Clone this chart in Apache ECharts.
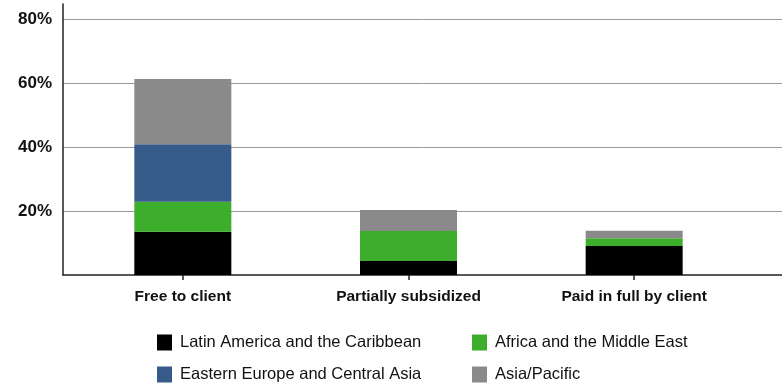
<!DOCTYPE html>
<html>
<head>
    <meta charset="utf-8">
    <title>Stacked bars</title>
    <script src="https://cdn.jsdelivr.net/npm/echarts@6/dist/echarts.min.js"></script>
    <style>
        html, body { margin: 0; padding: 0; background: #fff; }
        #container { width: 782px; height: 383px; }
    </style>
</head>
<body>
<div id="container"></div>
<script>
    // data (percent)
    var categories = ['Free to client', 'Partially subsidized', 'Paid in full by client'];
    var latinAmerica = [13.5, 4.4, 9.1];
    var africaMiddleEast = [9.4, 9.35, 2.4];
    var easternEurope = [18.0, 0, 0];
    var asiaPacific = [20.35, 6.55, 2.35];
    var yTicks = [0, 20, 40, 60, 80];

    var colors = {
        latin: '#000000',
        africa: '#3dae2b',
        eastern: '#365a8a',
        asia: '#8a8a8a'
    };

    var font = "'Liberation Sans', Arial, sans-serif";
    var chart = echarts.init(document.getElementById('container'));

    function bar(name, data, color) {
        return {
            name: name,
            type: 'bar',
            stack: 'all',
            xAxisIndex: 1,
            yAxisIndex: 1,
            barWidth: 97,
            data: data,
            itemStyle: { color: color },
            emphasis: { disabled: true }
        };
    }

    // one legend per entry, laid out as a 2x2 block
    function legendItem(name, left, top) {
        return {
            data: [name], left: left, top: top, padding: 0,
            itemWidth: 15, itemHeight: 16, icon: 'rect', selectedMode: false,
            textStyle: { color: '#111', fontFamily: font, fontSize: 16.5, padding: [0, 0, 0, 3] }
        };
    }

    var option = {
        animation: false,
        grid: [
            // background grid: y labels, gridlines, axis lines
            { left: 63, right: 0, top: 4, bottom: 108 },
            // bars
            { left: 70, right: 35, top: 4, bottom: 108 }
        ],
        xAxis: [
            {
                type: 'value', gridIndex: 0, min: 0, max: 1,
                axisLine: { show: true, lineStyle: { color: '#222', width: 1.5 } },
                axisTick: { show: false }, axisLabel: { show: false }, splitLine: { show: false }
            },
            {
                type: 'category', gridIndex: 1, data: categories,
                axisLine: { show: false },
                axisTick: { show: true, alignWithLabel: true, length: 5, lineStyle: { color: '#222', width: 1.5 } },
                axisLabel: { color: '#111', fontFamily: font, fontWeight: 'bold', fontSize: 15.5, margin: 14 }
            }
        ],
        yAxis: [
            {
                type: 'value', gridIndex: 0, min: 0, max: 84.7, interval: 20,
                axisLine: { show: true, lineStyle: { color: '#222', width: 1.5 } },
                axisTick: { show: false },
                axisLabel: {
                    color: '#111', fontFamily: font, fontWeight: 'bold', fontSize: 17, margin: 11,
                    formatter: function (v) {
                        return (v > 0 && yTicks.indexOf(v) >= 0) ? v + '%' : '';
                    }
                },
                splitLine: {
                    show: true,
                    lineStyle: { color: ['transparent', '#9a9a9a', '#9a9a9a', '#9a9a9a', '#9a9a9a', 'transparent'], width: 1 }
                }
            },
            {
                type: 'value', gridIndex: 1, min: 0, max: 84.7,
                show: false, splitLine: { show: false }
            }
        ],
        legend: [
            legendItem('Latin America and the Caribbean', 157, 334),
            legendItem('Eastern Europe and Central Asia', 157, 366),
            legendItem('Africa and the Middle East', 472, 334),
            legendItem('Asia/Pacific', 472, 366)
        ],
        series: [
            bar('Latin America and the Caribbean', latinAmerica, colors.latin),
            bar('Africa and the Middle East', africaMiddleEast, colors.africa),
            bar('Eastern Europe and Central Asia', easternEurope, colors.eastern),
            bar('Asia/Pacific', asiaPacific, colors.asia)
        ]
    };

    chart.setOption(option);
</script>
</body>
</html>
